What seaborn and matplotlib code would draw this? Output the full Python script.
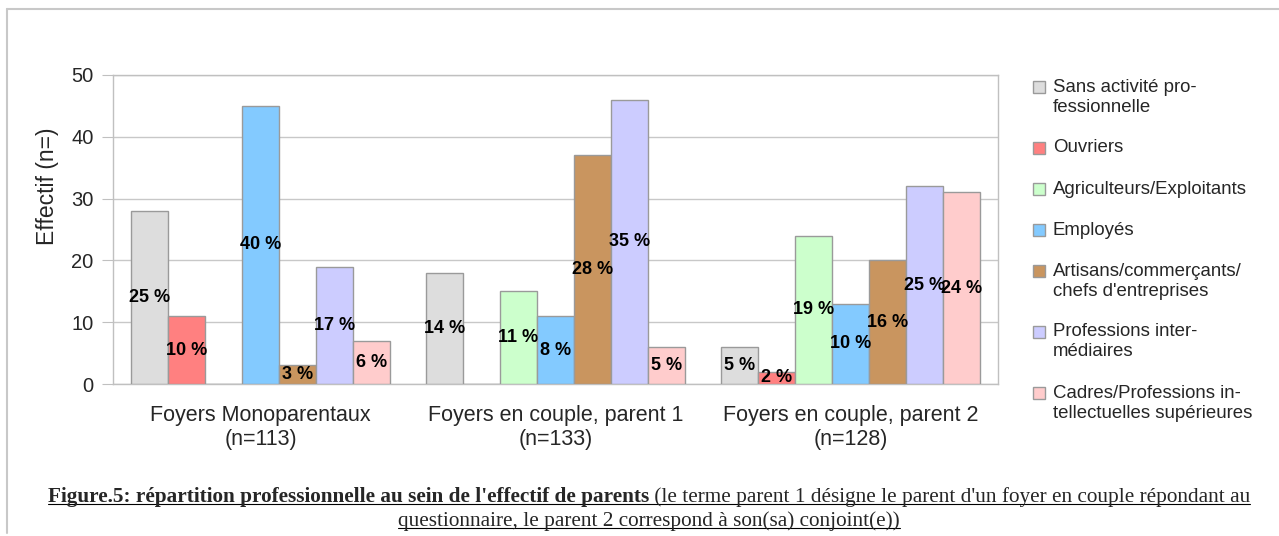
import matplotlib.pyplot as plt
import seaborn as sns
import pandas as pd
from matplotlib.lines import Line2D
from matplotlib.patches import Rectangle

groupes = ["Foyers Monoparentaux\n(n=113)",
           "Foyers en couple, parent 1\n(n=133)",
           "Foyers en couple, parent 2\n(n=128)"]
categories = ["Sans activité pro-\nfessionnelle", "Ouvriers", "Agriculteurs/Exploitants",
              "Employés", "Artisans/commerçants/\nchefs d'entreprises",
              "Professions inter-\nmédiaires", "Cadres/Professions in-\ntellectuelles supérieures"]
couleurs = ["#DDDDDD", "#FF8080", "#CCFFCC", "#83CAFF", "#C9955F", "#CCCCFF", "#FFCCCC"]

# effectifs par catégorie (une liste par groupe de foyers)
effectifs_mono = [28, 11, 0, 45, 3, 19, 7]
effectifs_p1 = [18, 0, 15, 11, 37, 46, 6]
effectifs_p2 = [6, 2, 24, 13, 20, 32, 31]
pourcent_mono = ["25 %", "10 %", "", "40 %", "3 %", "17 %", "6 %"]
pourcent_p1 = ["14 %", "", "11 %", "8 %", "28 %", "35 %", "5 %"]
pourcent_p2 = ["5 %", "2 %", "19 %", "10 %", "16 %", "25 %", "24 %"]

rows = []
for g, vals in zip(groupes, [effectifs_mono, effectifs_p1, effectifs_p2]):
    for c, v in zip(categories, vals):
        rows.append({"groupe": g, "categorie": c, "effectif": v})
df = pd.DataFrame(rows)

sns.set_style("white")
plt.rcParams['font.family'] = ['Liberation Sans', 'DejaVu Sans']

W, H = 1279, 536
fig = plt.figure(figsize=(W / 100, H / 100), dpi=100)
ax = fig.add_axes([113 / W, 1 - 384 / H, 885 / W, 309 / H])

sns.barplot(data=df, x="groupe", y="effectif", hue="categorie", hue_order=categories,
            palette=couleurs, width=0.878, edgecolor="#9a9a9a", linewidth=1,
            saturation=1, ax=ax, legend=False, zorder=3)

labels_par_cat = list(zip(pourcent_mono, pourcent_p1, pourcent_p2))
for cont, labs in zip(ax.containers, labels_par_cat):
    ax.bar_label(cont, labels=list(labs), label_type="center", fontsize=13,
                 fontweight="bold", color="black", zorder=5)

ax.set_ylim(0, 50)
ax.set_xlim(-0.5, 2.5)
ax.set_yticks(range(0, 51, 10))
ax.yaxis.grid(True, color="#c8c8c8", linewidth=1, zorder=0)
ax.set_axisbelow(True)
for s in ax.spines.values():
    s.set_color("#c0c0c0")
    s.set_linewidth(1)
ax.tick_params(axis="y", labelsize=14.5, length=8, color="#c0c0c0", left=True, pad=6)
ax.tick_params(axis="x", labelsize=15.5, length=0, pad=15)
ax.set_xticks([-0.5, 0.5, 1.5, 2.5], minor=True)
ax.tick_params(axis="x", which="minor", length=43, color="#c0c0c0", width=1)
ax.set_xlabel("")
ax.set_ylabel("Effectif (n=)", fontsize=16.5, va="center")
ax.yaxis.set_label_coords((48 - 113) / 885, (384 - 186) / 309)

# légende (à droite), dessinée ligne par ligne
y = 87
for lab, col in zip(categories, couleurs):
    fig.patches.append(Rectangle((1033 / W, 1 - (y + 6) / H), 12 / W, 12 / H,
                                 transform=fig.transFigure, facecolor=col,
                                 edgecolor="#9a9a9a", linewidth=1))
    lignes = lab.split("\n")
    for i, l in enumerate(lignes):
        fig.text(1053 / W, 1 - (y + 20 * i) / H, l, fontsize=13.4, va="center", ha="left")
    y += 20 * len(lignes) + 21

# bordure de la figure (haut et gauche)
fig.add_artist(Line2D([7 / W, 1], [1 - 9 / H] * 2, transform=fig.transFigure,
                      color="#c8c8c8", linewidth=1.5))
fig.add_artist(Line2D([7 / W] * 2, [1 - 9 / H, 1 - 533 / H], transform=fig.transFigure,
                      color="#c8c8c8", linewidth=1.5))

# légende de la figure (soulignée)
serif = ['Liberation Serif', 'DejaVu Serif']
cap_size = 15.3
fig.canvas.draw()
r = fig.canvas.get_renderer()
t1 = fig.text(0, 0, "Figure.5: répartition professionnelle au sein de l'effectif de parents",
              fontsize=cap_size, fontweight="bold", family=serif, va="baseline")
t2 = fig.text(0, 0, " (le terme parent 1 désigne le parent d'un foyer en couple répondant au",
              fontsize=cap_size, family=serif, va="baseline")
t3 = fig.text(649 / W, 0, "questionnaire, le parent 2 correspond à son(sa) conjoint(e))",
              fontsize=cap_size, family=serif, ha="center", va="baseline")
w1 = t1.get_window_extent(r).width
w2 = t2.get_window_extent(r).width
x0 = 649 - (w1 + w2) / 2
t1.set_position((x0 / W, 1 - 502 / H))
t2.set_position(((x0 + w1) / W, 1 - 502 / H))
t3.set_position((649 / W, 1 - 526 / H))
fig.canvas.draw()
for t, base in ((t1, 502), (t2, 502), (t3, 526)):
    bb = t.get_window_extent(r)
    fig.add_artist(Line2D([bb.x0 / W, bb.x1 / W], [1 - (base + 2) / H] * 2,
                          transform=fig.transFigure, color="black", linewidth=0.8))

fig.savefig("out.png", dpi=100)
